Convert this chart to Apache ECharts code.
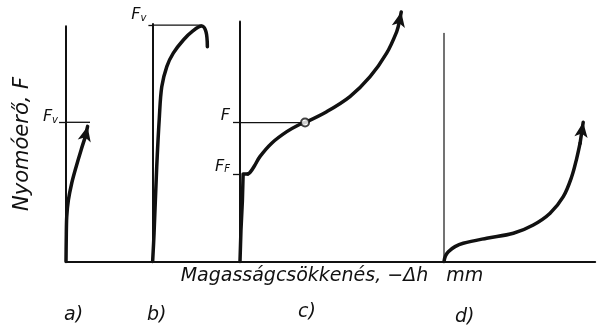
<!DOCTYPE html>
<html>
<head>
<meta charset="utf-8">
<script src="https://cdn.jsdelivr.net/npm/echarts@6/dist/echarts.min.js"></script>
<style>
  html, body { margin: 0; padding: 0; background: #fff; }
  #chart { width: 599px; height: 333px; }
</style>
</head>
<body>
<div id="chart"></div>
<script>
// Force vs. height reduction for four typical compression behaviours.
const INK = '#111';
const FONT = 'DejaVu Sans';
const PX = 2.4;            // pixels per data unit on both axes
const BASE_Y = 261.5;      // shared baseline (Δh axis)

const panelLabels = ['a)', 'b)', 'c)', 'd)'];
const panelLeft = [66, 152.4, 240, 444];
const panelXMax = [36, 36.5, 85, 63];
const panelYMax = [98, 99, 100, 95];

const yAxisTitle = 'Nyomóerő, F';
const xAxisTitle = 'Magasságcsökkenés, −Δh   mm';

// a) brittle: steep rise up to the failure force Fv
const curveA = [[0, 0], [0.1, 9], [0.3, 18.5], [1, 25.6], [2.4, 32.7], [4.2, 39.4], [6.3, 46.5], [7.9, 51.5]];
const headA = [9.0, 56.3];
const levelA = 58;
const levelAEnd = 10;

// b) rise, maximum at Fv, then drop
const curveB = [[0.1, 0], [0.7, 11.9], [1.8, 39.4], [2.9, 60.2], [3.9, 72.8], [6, 81.2], [8.7, 86.8],
                [12.9, 92.3], [17, 96.2], [20.5, 98.1], [22.3, 95.8], [22.9, 89.5]];
const levelB = 98.5;
const levelBEnd = 20.8;

// c) elastic rise to FF, then hardening through F
const riseC = [[0, 0], [0.4, 13], [1, 25.5], [1.3, 36.5], [3.3, 36.5]];
const curveC = [[3.3, 36.5], [4.2, 37.1], [6, 39.8], [8.3, 43.7], [13.2, 49.3], [19.5, 54.1], [25, 57.2],
                [27.1, 57.9], [36.1, 62.4], [45.8, 68.7], [54.2, 77], [61.1, 86.8], [65.3, 95.8], [66.3, 99.5]];
const headC = [67.2, 104];
const levelFF = 36.5;
const levelF = 57.9;
const pointF = [27.1, 57.9];

// d) soft start, then progressive hardening
const curveD = [[0, 0], [0.6, 2.3], [1.8, 4.1], [4.6, 6.2], [8, 7.6], [17.8, 9.7], [28.9, 11.75], [37.2, 15.2],
                [44.2, 20.1], [49.7, 27], [53.2, 35.3], [55.3, 43], [56.7, 49.3]];
const headD = [58, 58];

const italic = { fontFamily: FONT, fontStyle: 'italic', color: INK };
const richF = {
  f: Object.assign({ fontSize: 16 }, italic),
  s: Object.assign({ fontSize: 10, verticalAlign: 'bottom' }, italic)
};

const grids = panelLeft.map((left, i) => ({
  left: left,
  width: panelXMax[i] * PX,
  top: BASE_Y - panelYMax[i] * PX,
  height: panelYMax[i] * PX
}));

const xAxes = panelXMax.map((max, i) => ({
  type: 'value', gridIndex: i, min: 0, max: max,
  axisLine: { show: true, onZero: false, lineStyle: { color: INK, width: 2 } },
  axisTick: { show: false }, axisLabel: { show: false }, splitLine: { show: false }
}));
xAxes[2].name = xAxisTitle;
xAxes[2].nameLocation = 'middle';
xAxes[2].nameGap = 5;
xAxes[2].nameTextStyle = Object.assign({ fontSize: 19, padding: [0, 20, 0, 0] }, italic);

const tickStyle = { show: true, length: 7, lineStyle: { color: INK, width: 1.3 } };
const yAxes = panelYMax.map((max, i) => ({
  type: 'value', gridIndex: i, min: 0, max: max,
  axisLine: { show: true, onZero: false, lineStyle: { color: i === 3 ? '#444' : INK, width: i === 3 ? 1.5 : 2 } },
  axisTick: { show: false }, axisLabel: { show: false }, splitLine: { show: false }
}));
yAxes[0].name = yAxisTitle;
yAxes[0].nameLocation = 'middle';
yAxes[0].nameGap = 33;
yAxes[0].nameRotate = 90;
yAxes[0].nameTextStyle = Object.assign({ fontSize: 21 }, italic);

yAxes[0].axisTick = Object.assign({ customValues: [levelA] }, tickStyle);
yAxes[0].axisLabel = { show: true, customValues: [levelA], margin: 8, padding: [0, 0, 10, 0],
  formatter: () => '{f|F}{s|v}', rich: richF };
yAxes[1].axisTick = Object.assign({ customValues: [levelB] }, tickStyle, { length: 4 });
yAxes[1].axisLabel = { show: true, customValues: [levelB], margin: 6, padding: [0, 0, 20, 0],
  formatter: () => '{f|F}{s|v}', rich: richF };
yAxes[2].axisTick = Object.assign({ customValues: [levelFF, levelF] }, tickStyle);
yAxes[2].axisLabel = { show: true, customValues: [levelFF, levelF], margin: 10, padding: [0, 0, 14, 0],
  formatter: (v) => (v === levelF ? '{f|F}' : '{f|F}{s|F}'), rich: richF };

const thick = { color: INK, width: 3.5, cap: 'round', join: 'round' };
const thin = { color: INK, width: 1.3 };

function curve(i, data, smooth) {
  return { type: 'line', xAxisIndex: i, yAxisIndex: i, data: data, smooth: smooth,
    symbol: 'none', clip: false, silent: true, lineStyle: thick, z: 3 };
}
// arrowhead placed at `head`, turned along the last stretch of the curve
function arrow(i, from, head) {
  const deg = Math.atan2(head[1] - from[1], head[0] - from[0]) * 180 / Math.PI;
  return { type: 'line', xAxisIndex: i, yAxisIndex: i, silent: true, clip: false, z: 4,
    symbol: 'none', showSymbol: true, lineStyle: thick,
    data: [from, { value: head, symbol: 'arrow', symbolSize: [10, 15], symbolRotate: deg - 90,
      itemStyle: { color: INK, borderWidth: 0 } }] };
}
function level(i, y, xEnd) {
  return { type: 'line', xAxisIndex: i, yAxisIndex: i, data: [[0, y], [xEnd, y]],
    symbol: 'none', clip: false, silent: true, lineStyle: thin, z: 2 };
}

const series = [
  curve(0, curveA, 0.3), arrow(0, curveA[curveA.length - 1], headA), level(0, levelA, levelAEnd),
  curve(1, curveB, 0.35), level(1, levelB, levelBEnd),
  curve(2, riseC, false), curve(2, curveC, 0.35), arrow(2, curveC[curveC.length - 1], headC),
  level(2, levelF, pointF[0]),
  { type: 'scatter', xAxisIndex: 2, yAxisIndex: 2, data: [pointF], symbol: 'circle', symbolSize: 8,
    silent: true, clip: false, z: 5, itemStyle: { color: '#fff', borderColor: INK, borderWidth: 2 } },
  curve(3, curveD, 0.35), arrow(3, curveD[curveD.length - 1], headD)
];

const labelPos = [[64, 306], [147, 306], [298, 303], [455, 308]];
const titles = panelLabels.map((t, i) => ({
  text: t, left: labelPos[i][0], top: labelPos[i][1], padding: 0,
  textStyle: Object.assign({ fontSize: 19, fontWeight: 'normal' }, italic)
}));

const chart = echarts.init(document.getElementById('chart'), null, { renderer: 'canvas' });
chart.setOption({
  animation: false,
  backgroundColor: '#fff',
  title: titles,
  grid: grids,
  xAxis: xAxes,
  yAxis: yAxes,
  series: series
});
</script>
</body>
</html>
